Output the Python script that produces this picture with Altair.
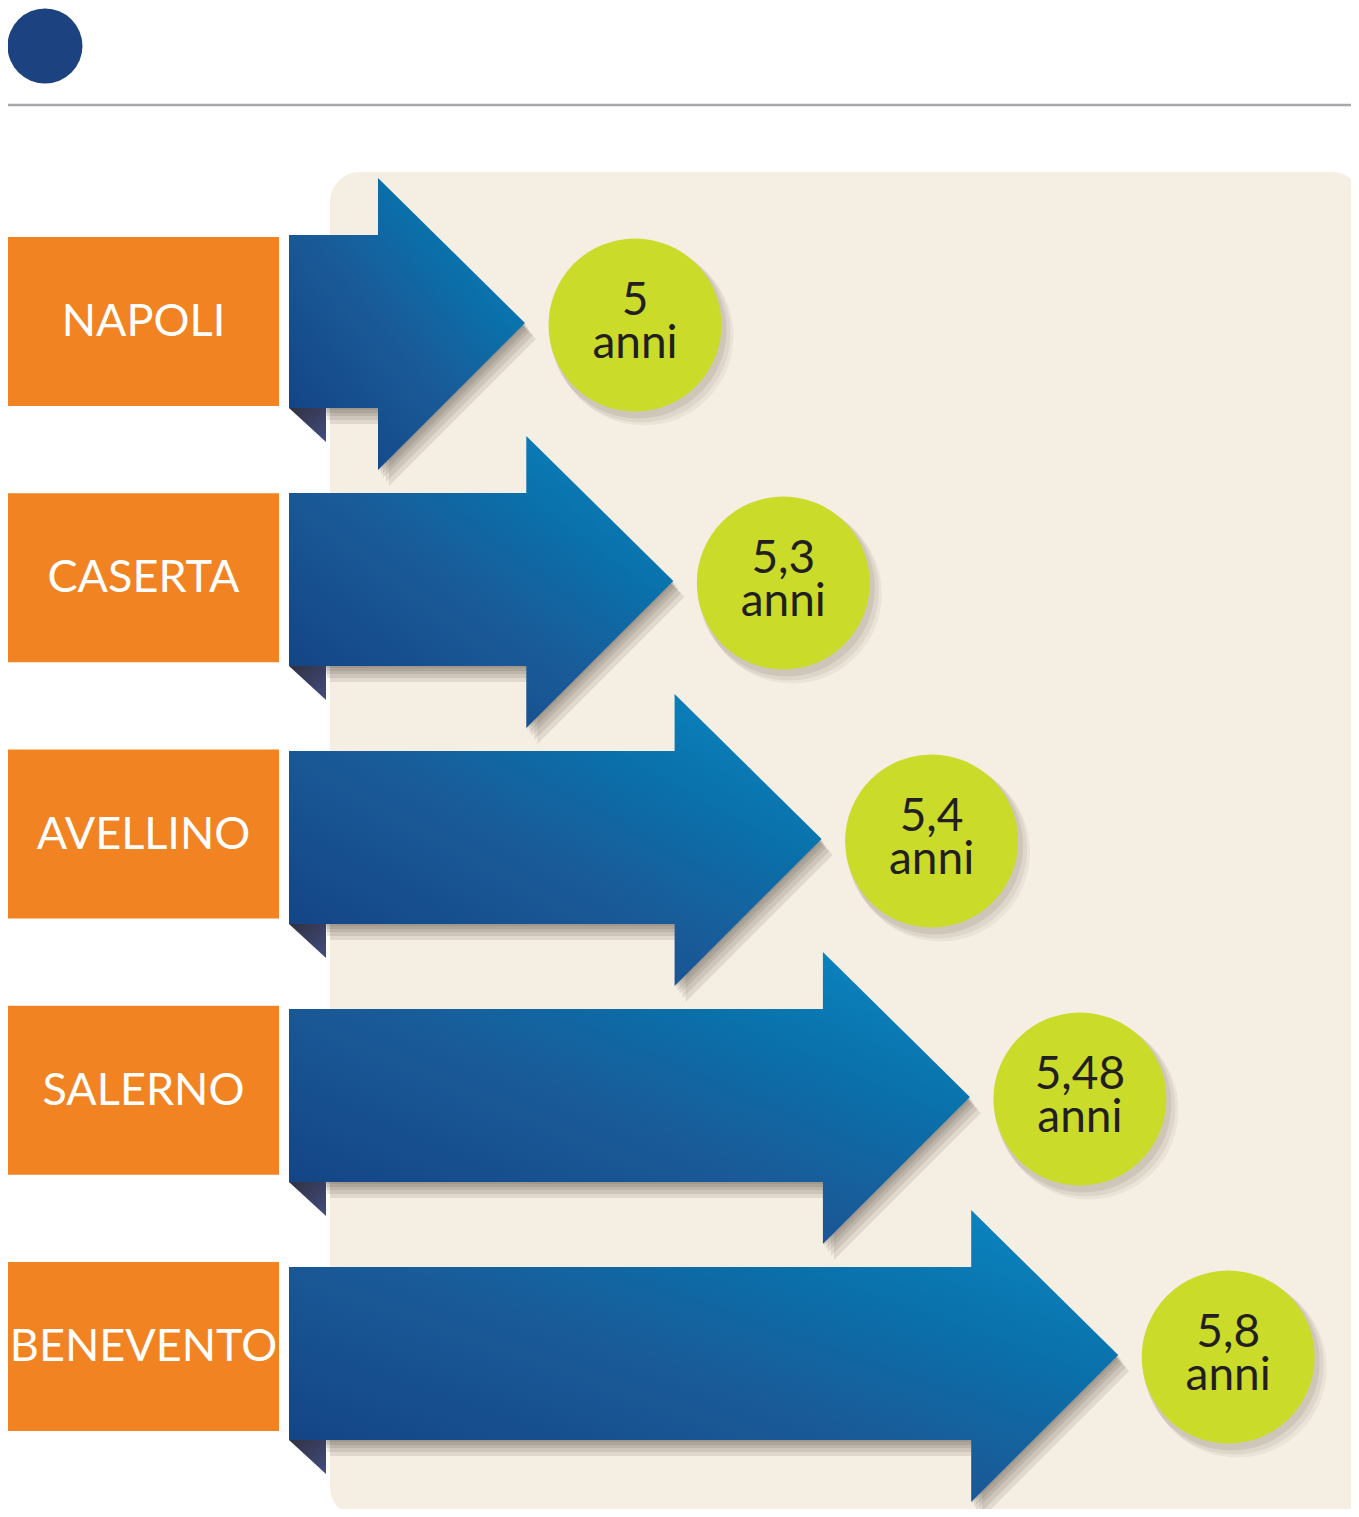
import altair as alt
import pandas as pd

# ---- data ----
cities = ["NAPOLI", "CASERTA", "AVELLINO", "SALERNO", "BENEVENTO"]
values = [5.0, 5.3, 5.4, 5.48, 5.8]
value_labels = ["5", "5,3", "5,4", "5,48", "5,8"]
unit_label = "anni"

# ---- layout (page pixel units) ----
W, H = 1343, 1501
XMIN, YMIN = 8, 8
BOX_X1, BOX_X2 = 8, 279
BOX_TOP0, BOX_STEP, BOX_H = 237, 256.25, 169
ARROW_C0, ARROW_STEP = 323, 258
BODY_X = 289
BODY_UP, BODY_DN = 88, 85
HEAD_UP, HEAD_DN = 145, 147
HEAD_BASE0, HEAD_STEP, HEAD_LEN = 378, 148.3, 147
CIRCLE_GAP = 110
CIRCLE_D = 173

ranks = [sorted(values).index(v) for v in values]

boxes, arrows, folds, shadows, circles = [], [], [], [], []
for i, (city, v, lab, r) in enumerate(zip(cities, values, value_labels, ranks)):
    top = BOX_TOP0 + BOX_STEP * i
    boxes.append(dict(city=city, x=BOX_X1, x2=BOX_X2, y=top, y2=top + BOX_H,
                      cx=(BOX_X1 + BOX_X2) / 2, ty=top + 99))
    c = ARROW_C0 + ARROW_STEP * i
    base = HEAD_BASE0 + HEAD_STEP * r
    tip = base + HEAD_LEN
    pts = [(BODY_X, c - BODY_UP, c + BODY_DN),
           (base, c - BODY_UP, c + BODY_DN),
           (base, c - HEAD_UP, c + HEAD_DN),
           (tip, c, c)]
    for k, (px, py, py2) in enumerate(pts):
        arrows.append(dict(city=city, seq=k, x=px, y=py, y2=py2))
    for s, (dx, dy) in enumerate([(1, 2), (3, 5), (5, 8), (8, 12), (11, 16)]):
        for k, (px, py, py2) in enumerate(pts):
            shadows.append(dict(key=f"{city}-{s}", seq=k, x=px + dx + (30 if k == 0 else 0),
                                y=py + dy, y2=py2 + dy))
    b = c + BODY_DN
    folds += [dict(city=city, seq=0, x=BODY_X, y=b, y2=b),
              dict(city=city, seq=1, x=BODY_X + 37, y=b, y2=b + 34)]
    ccx = tip + CIRCLE_GAP
    circles.append(dict(city=city, value=v, x=ccx, y=c + 2, l1=lab, l2=unit_label))

boxes = pd.DataFrame(boxes)
arrows = pd.DataFrame(arrows)
shadows = pd.DataFrame(shadows)
folds = pd.DataFrame(folds)
circles = pd.DataFrame(circles)

xs = alt.Scale(domain=[XMIN, XMIN + W], nice=False, zero=False)
ys = alt.Scale(domain=[YMIN + H, YMIN], nice=False, zero=False)
X = lambda f: alt.X(f, type="quantitative", scale=xs, axis=None)
Y = lambda f: alt.Y(f, type="quantitative", scale=ys, axis=None, stack=None)

# background panel
panel = alt.Chart(pd.DataFrame([dict(x=330, x2=1362, y=172, y2=1517)])).mark_rect(
    color="#f5eee2", cornerRadius=30).encode(
    x=X("x"), x2="x2", y=Y("y"), y2="y2")

# header rule & dot
rule = alt.Chart(pd.DataFrame([dict(x=5, x2=1359, y=105)])).mark_rule(
    color="#a8a8ac", strokeWidth=2.5).encode(x=X("x"), x2="x2", y=Y("y"))
dot = alt.Chart(pd.DataFrame([dict(x=45, y=46)])).mark_point(
    shape="circle", filled=True, color="#1c4280", opacity=1, size=75 * 75).encode(
    x=X("x"), y=Y("y"))

# orange label boxes
box_rect = alt.Chart(boxes).mark_rect(color="#f28322").encode(
    x=X("x"), x2="x2", y=Y("y"), y2="y2")
box_text = alt.Chart(boxes).mark_text(
    font="Lato", fontSize=45, color="white", align="center", baseline="alphabetic").encode(
    x=X("cx"), y=Y("ty"), text="city:N")

# arrow shadows
arrow_shadow = alt.Chart(shadows).mark_area(color="#3a3025", opacity=0.11).encode(
    x=X("x"), y=Y("y"), y2="y2", detail="key:N")

# fold triangles
fold = alt.Chart(folds).mark_area(
    color=alt.Gradient(gradient="linear", x1=0, y1=0, x2=1, y2=1,
                       stops=[alt.GradientStop(offset=0, color="#2f3140"),
                              alt.GradientStop(offset=1, color="#434c80")])).encode(
    x=X("x"), y=Y("y"), y2="y2", detail="city:N")

# arrows
arrow = alt.Chart(arrows).mark_area(
    color=alt.Gradient(gradient="linear", x1=0, y1=1, x2=1, y2=0,
                       stops=[alt.GradientStop(offset=0, color="#123f80"),
                              alt.GradientStop(offset=0.45, color="#1a5a98"),
                              alt.GradientStop(offset=0.7, color="#0a70aa"),
                              alt.GradientStop(offset=1, color="#0a8bc6")])).encode(
    x=X("x"), y=Y("y"), y2="y2", detail="city:N")

# circle shadows
circ_sh = []
for dx, dy, extra, op in [(3, 5, 4, 0.10), (6, 8, 6, 0.08), (9, 11, 6, 0.06)]:
    circ_sh.append(alt.Chart(circles).transform_calculate(
        sx=f"datum.x + {dx}", sy=f"datum.y + {dy}").mark_point(
        shape="circle", filled=True, color="#4a4030", opacity=op,
        size=(CIRCLE_D + extra) ** 2).encode(x=X("sx"), y=Y("sy")))

circ = alt.Chart(circles).mark_point(
    shape="circle", filled=True, color="#cadb2a", opacity=1, size=CIRCLE_D ** 2).encode(
    x=X("x"), y=Y("y"))
t1 = alt.Chart(circles).mark_text(
    font="Lato", fontSize=46, color="#231f20", align="center", baseline="alphabetic", dy=-10).encode(
    x=X("x"), y=Y("y"), text="l1:N")
t2 = alt.Chart(circles).mark_text(
    font="Lato", fontSize=46, color="#231f20", align="center", baseline="alphabetic", dy=33).encode(
    x=X("x"), y=Y("y"), text="l2:N")

chart = alt.layer(panel, rule, dot, box_rect, box_text, arrow_shadow, fold, arrow,
                  *circ_sh, circ, t1, t2).properties(
    width=W, height=H, padding=0, autosize="none", background="white"
).configure_view(stroke=None)

chart.save("out.html", embed_options={"renderer": "svg", "actions": False})
